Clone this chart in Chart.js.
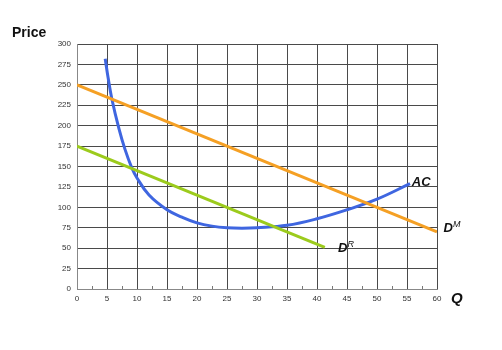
<!DOCTYPE html>
<html>
<head>
<meta charset="utf-8">
<script src="https://cdn.jsdelivr.net/npm/chart.js@4"></script>
<style>
  html, body { margin: 0; padding: 0; background: #fff; }
  #wrap { width: 502px; height: 350px; }
</style>
</head>
<body>
<div id="wrap"><canvas id="chart" width="502" height="350"></canvas></div>
<script>
// values
const acQ = [4.7, 5.2, 5.8, 7, 8, 9.1, 10, 12, 15, 17.5, 20, 22.5, 25, 27.5, 30, 35, 40, 45, 50, 55.5];
const acP = [282, 258, 233, 196, 171, 149, 136, 115, 97, 88, 81, 77, 75, 74.5, 75, 78, 86, 97, 110, 129];
const dmQ = [0, 60];
const dmP = [250, 70];
const drQ = [0, 41.3];
const drP = [175, 51];
const minorQ = [2.5, 7.5, 12.5, 17.5, 22.5, 27.5, 32.5, 37.5, 42.5, 47.5, 52.5, 57.5];

const pts = (xs, ys) => xs.map((x, i) => ({ x, y: ys[i] }));

const GRID = '#4a4a4a';

const extras = {
  id: 'extras',
  afterDraw(chart) {
    const { ctx, scales: { x, y }, chartArea } = chart;
    ctx.save();
    // minor ticks on the Q axis
    ctx.strokeStyle = '#777';
    ctx.lineWidth = 1;
    minorQ.forEach(q => {
      const px = Math.round(x.getPixelForValue(q)) + 0.5;
      ctx.beginPath();
      ctx.moveTo(px, chartArea.bottom);
      ctx.lineTo(px, chartArea.bottom - 3);
      ctx.stroke();
    });

    ctx.fillStyle = '#111';
    ctx.textBaseline = 'middle';
    ctx.textAlign = 'left';

    const label = (main, sup, q, p) => {
      const px = x.getPixelForValue(q), py = y.getPixelForValue(p);
      ctx.font = 'italic bold 13px "Liberation Sans", Arial, sans-serif';
      ctx.fillText(main, px, py);
      if (sup) {
        const w = ctx.measureText(main).width;
        ctx.font = 'italic 9px "Liberation Sans", Arial, sans-serif';
        ctx.fillText(sup, px + w, py - 4);
      }
    };
    label('AC', '', 55.8, 130);
    label('D', 'M', 61.1, 74);
    label('D', 'R', 43.5, 50);

    ctx.font = 'italic bold 15px "Liberation Sans", Arial, sans-serif';
    ctx.fillText('Q', 451, 299);

    ctx.font = 'bold 14px "Liberation Sans", Arial, sans-serif';
    ctx.textBaseline = 'alphabetic';
    ctx.fillText('Price', 12, 37);
    ctx.restore();
  }
};

new Chart(document.getElementById('chart'), {
  type: 'scatter',
  data: {
    datasets: [
      { data: pts(dmQ, dmP), showLine: true, borderColor: '#f5a024', borderWidth: 3, pointRadius: 0 },
      { data: pts(drQ, drP), showLine: true, borderColor: '#9ccb1c', borderWidth: 3, pointRadius: 0 },
      { data: pts(acQ, acP), showLine: true, borderColor: '#3f66e0', borderWidth: 3, pointRadius: 0, tension: 0.4 },
    ],
  },
  options: {
    responsive: false,
    animation: false,
    layout: { padding: { left: 0, top: 44, right: 65, bottom: 0 } },
    plugins: { legend: { display: false }, tooltip: { enabled: false } },
    scales: {
      x: {
        type: 'linear', min: 0, max: 60,
        afterFit: s => { s.height = 61; },
        ticks: { stepSize: 5, color: '#333', padding: 5, font: { size: 8, family: '"Liberation Sans", Arial, sans-serif' } },
        grid: { color: GRID, lineWidth: 1, drawTicks: false },
        border: { color: '#888', width: 1 },
      },
      y: {
        min: 0, max: 300,
        afterFit: s => { s.width = 77; },
        ticks: { stepSize: 25, color: '#333', padding: 6, font: { size: 8, family: '"Liberation Sans", Arial, sans-serif' } },
        grid: { color: GRID, lineWidth: 1, drawTicks: false },
        border: { color: '#888', width: 1 },
      },
    },
  },
  plugins: [extras],
});
</script>
</body>
</html>
